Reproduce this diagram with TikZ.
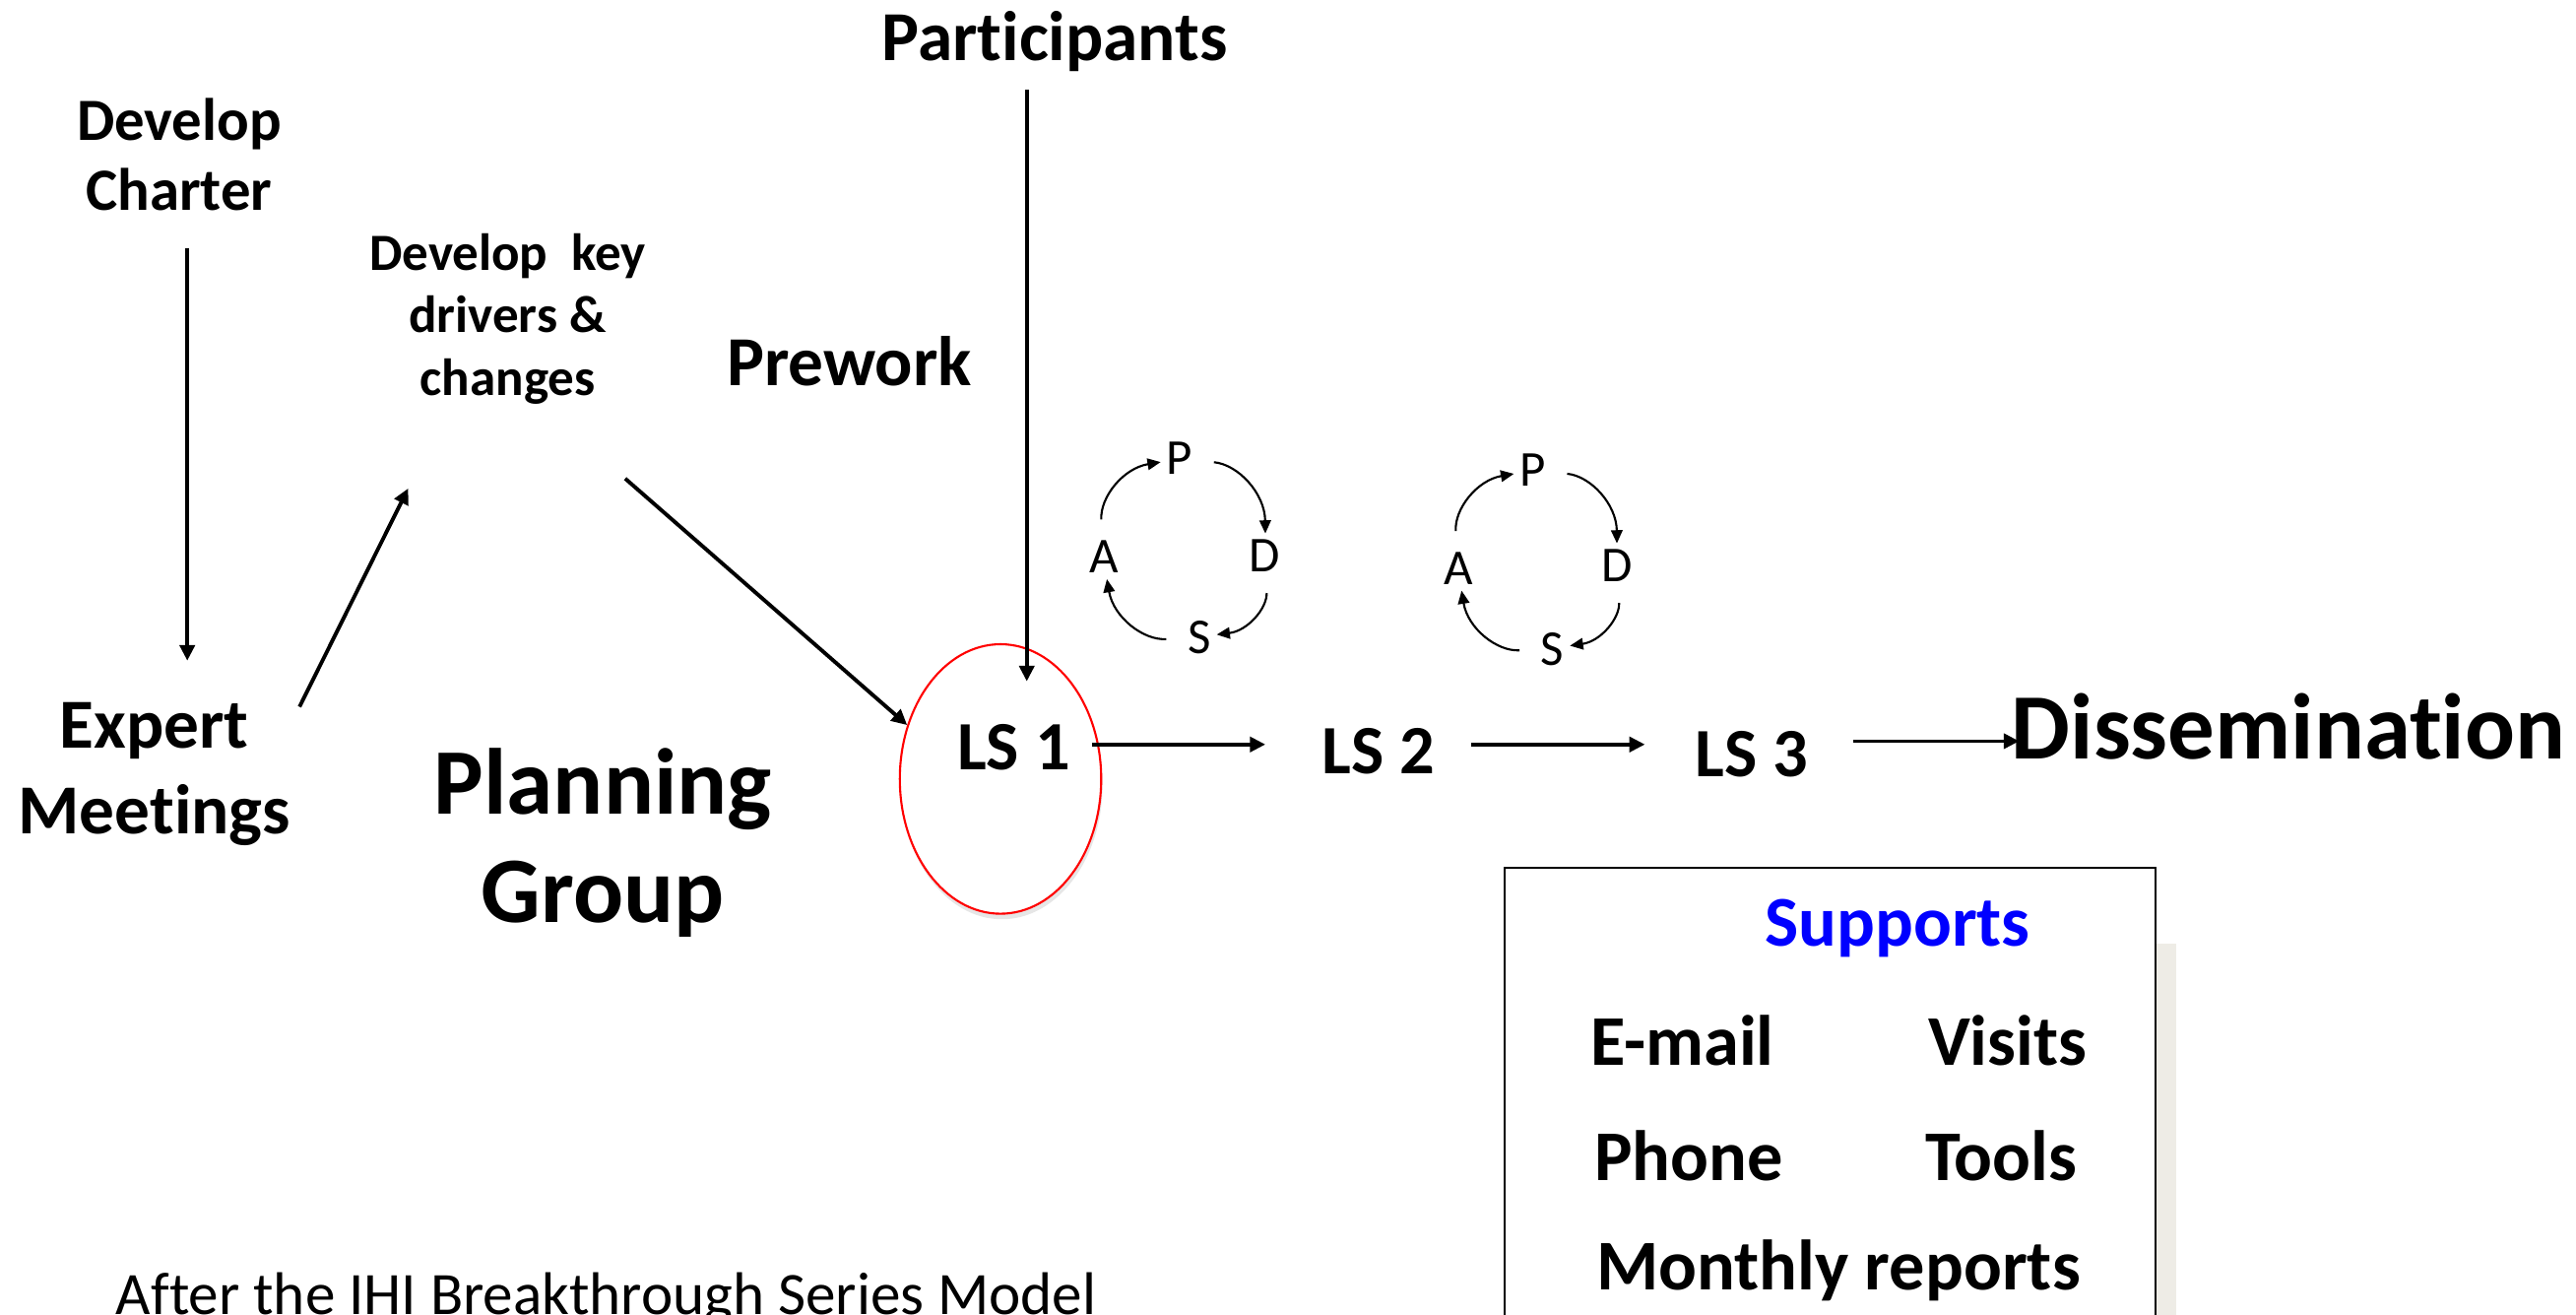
\documentclass[tikz,border=0pt]{standalone}
\usepackage{fontspec}
\setmainfont{Carlito}[Ligatures=NoCommon]
\usetikzlibrary{arrows.meta, calc, shapes.geometric, shadows}
\definecolor{boxshade}{RGB}{238,236,230}

\begin{document}
\begin{tikzpicture}[x=0.16684mm, y=-0.16684mm,
        arr/.style={line width=1.1pt, -{Triangle[length=4.5pt, width=4.3pt]}},
        cyc/.style={line width=0.6pt, -{Triangle[length=3.8pt, width=3.3pt]}, bend left=42, shorten <=3.5pt, shorten >=-1pt},
        lbl/.style={font=\bfseries\fontsize{20.3}{24.7}\selectfont, align=center},
        ls/.style={font=\bfseries\fontsize{20}{24}\selectfont},
        sup/.style={font=\bfseries\fontsize{20.6}{24}\selectfont},
        pdsa/.style={font=\fontsize{14.5}{17}\selectfont, inner sep=2.5pt}]
        \useasboundingbox (0,0) rectangle (1568,800);

        % Nodes
        \node[font=\bfseries\fontsize{17.3}{20.4}\selectfont, align=center] (charter) at (109,94) {Develop\\Charter};
        \node[lbl] (expert) at (94,471) {Expert\\Meetings};
        \node[font=\bfseries\fontsize{15.1}{18}\selectfont, align=center] (drivers) at (309,194) {Develop\ \ key\\drivers \&\\changes};
        \node[lbl] (prework) at (517,220) {Prework};
        \node[lbl] (part) at (642,25) {Participants};
        \node[font=\bfseries\fontsize{27.1}{31.3}\selectfont, align=center] (planning) at (367,513) {Planning\\Group};
        \node[ellipse, draw=red, line width=0.6pt, fill=white, inner sep=0pt, minimum width=20.45mm, minimum height=27.36mm,
              drop shadow={opacity=0.2, shadow xshift=0.4pt, shadow yshift=-1.6pt}] (ring) at (609,474) {};
        \node[ls] (LS1) at (617,455) {LS 1};
        \node[ls] (LS2) at (839,457) {LS 2};
        \node[ls] (LS3) at (1066,459) {LS 3};
        \node[font=\bfseries\fontsize{27}{32}\selectfont] (diss) at (1393,442) {Dissemination};

        % PDSA cycles
        \node[pdsa] (P1) at (718,279) {P};
        \node[pdsa] (D1) at (770,338) {D};
        \node[pdsa] (S1) at (730,388) {S};
        \node[pdsa] (A1) at (672,339) {A};
        \node[pdsa] (P2) at (933,286) {P};
        \node[pdsa] (D2) at (984,344) {D};
        \node[pdsa] (S2) at (945,395) {S};
        \node[pdsa] (A2) at (888,346) {A};

        % Supports box
        \node[draw, line width=0.7pt, fill=white, inner sep=0pt, minimum width=66.07mm, minimum height=52.05mm,
              drop shadow={shadow xshift=6pt, shadow yshift=-22pt, fill=boxshade, opacity=1}] (supbox) at (1114,684) {};
        \node[sup, text=blue] (supports) at (1155,565) {Supports};
        \node[sup] (email) at (1024,633) {E-mail};
        \node[sup] (visits) at (1222,633) {Visits};
        \node[sup] (phone) at (1028,703) {Phone};
        \node[sup] (tools) at (1218,703) {Tools};
        \node[sup] (monthly) at (1119,773) {Monthly reports};

        \node[anchor=base, font=\fontsize{17.4}{21}\selectfont] (credit) at (369,800) {After the IHI Breakthrough Series Model};

        % Edges
        \draw[arr] ($(charter.south)+(5,15)$) -- ($(expert.north)+(20,-18)$);
        \draw[arr] ($(expert.north east)+(-2,10)$) -- ($(drivers.south west)+(31,44)$);
        \draw[arr] ($(drivers.south east)+(-20,38)$) -- (ring.150);
        \draw[arr] ($(part.south)+(-17,4)$) -- ($(LS1.north)+(8,-19)$);
        \draw[arr] ($(LS1.east)+(6,-2)$) -- ($(LS1.east -| LS2.west)+(-27,-2)$);
        \draw[arr] ($(LS2.east)+(15,-4)$) -- ($(LS2.east -| LS3.west)+(-23,-4)$);
        \draw[arr] ($(LS3.east)+(20,-8)$) -- ($(LS3.east -| diss.west)+(12,-8)$);

        % Cycle arcs
        \draw[cyc] (A1) to (P1);
        \draw[cyc] (P1) to (D1);
        \draw[cyc] (D1) to (S1);
        \draw[cyc] (S1) to (A1);
        \draw[cyc] (A2) to (P2);
        \draw[cyc] (P2) to (D2);
        \draw[cyc] (D2) to (S2);
        \draw[cyc] (S2) to (A2);
    \end{tikzpicture}
\end{document}
